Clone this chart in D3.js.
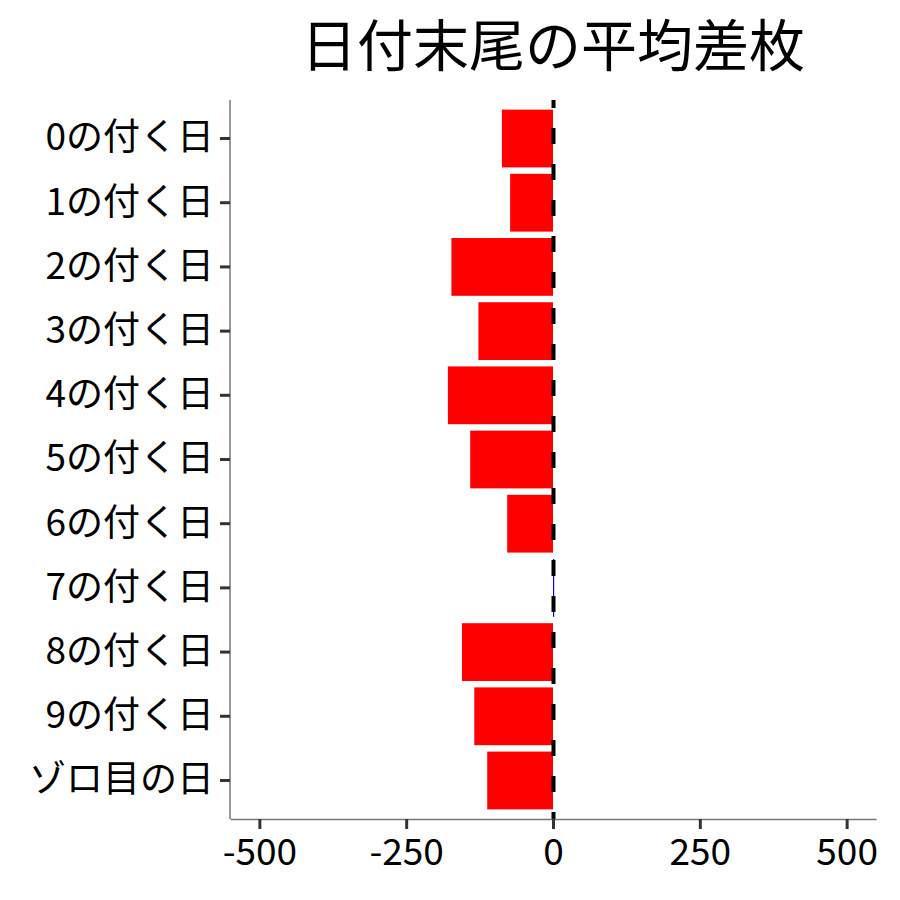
<!DOCTYPE html>
<html>
<head>
<meta charset="utf-8">
<script src="https://cdn.jsdelivr.net/npm/d3@7"></script>
<style>
  body { margin: 0; background: #fff; }
  text { font-family: "Noto Sans CJK JP", "Noto Sans", sans-serif; }
</style>
</head>
<body>
<div id="chart"></div>
<script>
// data
var labels = ["0の付く日", "1の付く日", "2の付く日", "3の付く日", "4の付く日",
              "5の付く日", "6の付く日", "7の付く日", "8の付く日", "9の付く日", "ゾロ目の日"];
var diffs = [-87, -73, -173, -127, -179, -141, -78, 2, -155, -134, -112];
var xTicks = [-500, -250, 0, 250, 500];
var title = "日付末尾の平均差枚";

var width = 900, height = 900;
var margin = {top: 100, right: 24, bottom: 81, left: 230};

var svg = d3.select("#chart").append("svg")
    .attr("width", width)
    .attr("height", height);

// x: -500..500 plus 5% padding on each side
var x = d3.scaleLinear()
    .domain([-550, 550])
    .range([margin.left, width - margin.right]);

// y: band with ggplot-like 0.6 expansion
var step = (height - margin.bottom - margin.top) / (labels.length + 0.2);
var y = d3.scaleBand()
    .domain(labels)
    .range([margin.top + 0.1 * step, height - margin.bottom - 0.1 * step])
    .paddingInner(0.1)
    .paddingOuter(0.05);

var data = labels.map(function(d, i) { return {label: d, value: diffs[i]}; });

// bars
svg.selectAll(".bar")
    .data(data)
  .enter().append("rect")
    .attr("class", "bar")
    .attr("x", function(d) { return x(Math.min(0, d.value)); })
    .attr("y", function(d) { return y(d.label); })
    .attr("width", function(d) { return Math.abs(x(d.value) - x(0)); })
    .attr("height", y.bandwidth())
    .attr("fill", function(d) { return d.value < 0 ? "#ff0000" : "#0000ff"; });

// dashed zero line
svg.append("line")
    .attr("x1", x(0) + 0.5).attr("x2", x(0) + 0.5)
    .attr("y1", margin.top).attr("y2", height - margin.bottom)
    .attr("stroke", "#000")
    .attr("stroke-width", 4)
    .attr("stroke-dasharray", "16,20")
    .attr("stroke-dashoffset", 8);

// x axis
var xAxis = svg.append("g")
    .attr("transform", "translate(0," + (height - margin.bottom) + ")")
    .call(d3.axisBottom(x).tickValues(xTicks).tickFormat(function(d) { return String(d); })
      .tickSize(10).tickPadding(6).tickSizeOuter(0));
xAxis.select(".domain").attr("stroke", "#777").attr("stroke-width", 1.5);
xAxis.selectAll(".tick line").attr("stroke", "#333").attr("stroke-width", 3);
xAxis.selectAll("text")
    .attr("fill", "#000")
    .style("font-size", "37px")
    .attr("dy", "0.8em");

// y axis
var yAxis = svg.append("g")
    .attr("transform", "translate(" + margin.left + ",0)")
    .call(d3.axisLeft(y).tickSize(10).tickPadding(6).tickSizeOuter(0));
yAxis.select(".domain").attr("stroke", "#777").attr("stroke-width", 1.5)
    .attr("d", "M0," + margin.top + "V" + (height - margin.bottom));
yAxis.selectAll(".tick line").attr("stroke", "#333").attr("stroke-width", 3);
yAxis.selectAll("text")
    .attr("fill", "#000")
    .style("font-size", "37px");

// title
svg.append("text")
    .attr("x", (margin.left + width - margin.right) / 2)
    .attr("y", 66)
    .attr("text-anchor", "middle")
    .style("font-size", "56px")
    .attr("fill", "#000")
    .text(title);
</script>
</body>
</html>
